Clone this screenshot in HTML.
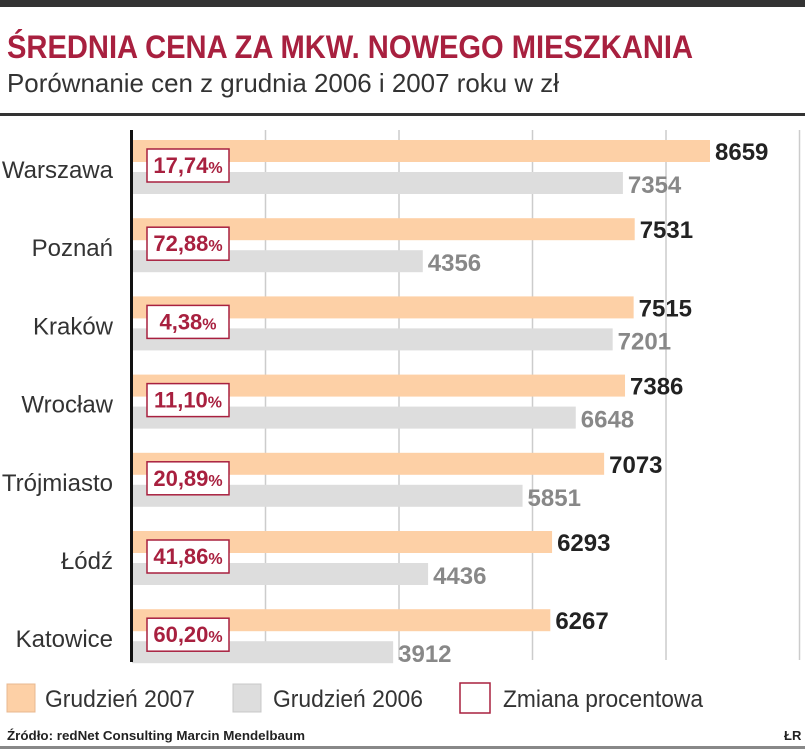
<!DOCTYPE html>
<html><head><meta charset="utf-8"><style>
body{margin:0;background:#fff;}
#w{position:relative;width:805px;height:749px;overflow:hidden;background:#fff;font-family:"Liberation Sans Narrow","Liberation Sans","DejaVu Sans Condensed",sans-serif;}
</style></head><body>
<div id="w">
<svg width="805" height="749">
<rect x="0" y="0" width="805" height="7" fill="#333"/>
<text x="7" y="58" font-size="32" font-weight="bold" fill="#a8203f" textLength="686" lengthAdjust="spacingAndGlyphs">ŚREDNIA CENA ZA MKW. NOWEGO MIESZKANIA</text>
<text x="7" y="92" font-size="26" fill="#333" textLength="552" lengthAdjust="spacingAndGlyphs">Porównanie cen z grudnia 2006 i 2007 roku w zł</text>
<rect x="0" y="113" width="805" height="3" fill="#333"/>
<g id="grid"></g>
<g id="bars"></g>
<rect x="130" y="130" width="3" height="532" fill="#111"/>
<g>
<rect x="7" y="684" width="28" height="28" fill="#fdd0a6" stroke="#e8b890"/>
<text x="45" y="707" font-size="24" fill="#333" textLength="150" lengthAdjust="spacingAndGlyphs">Grudzień 2007</text>
<rect x="233" y="684" width="28" height="28" fill="#ddd" stroke="#c8c8c8"/>
<text x="273" y="707" font-size="24" fill="#333" textLength="150" lengthAdjust="spacingAndGlyphs">Grudzień 2006</text>
<rect x="460" y="683" width="30" height="30" fill="#fff" stroke="#a8203f" stroke-width="1.5"/>
<text x="503" y="707" font-size="24" fill="#333" textLength="200" lengthAdjust="spacingAndGlyphs">Zmiana procentowa</text>
</g>
<text x="7" y="740" font-size="13" font-weight="bold" fill="#222" textLength="298" lengthAdjust="spacingAndGlyphs">Źródło: redNet Consulting Marcin Mendelbaum</text>
<text x="784" y="740" font-size="13" font-weight="bold" fill="#222">ŁR</text>
<rect x="0" y="746" width="805" height="3" fill="#888"/>
</svg>
</div>
<script>
const cities=["Warszawa","Poznań","Kraków","Wrocław","Trójmiasto","Łódź","Katowice"];
const values2007=[8659,7531,7515,7386,7073,6293,6267];
const values2006=[7354,4356,7201,6648,5851,4436,3912];
const changes=["17,74","72,88","4,38","11,10","20,89","41,86","60,20"];
const gridTicks=[2000,4000,6000,8000,10000];
const NS="http://www.w3.org/2000/svg";
const x0=132, pxPer=578/8659;
function xs(v){return x0+v*pxPer;}
function ys(i){return 140+i*78.2;}
function mk(tag,attrs,parent){const e=document.createElementNS(NS,tag);for(const k in attrs)e.setAttribute(k,attrs[k]);parent.appendChild(e);return e;}
const grid=document.getElementById('grid'),bars=document.getElementById('bars');
gridTicks.forEach(t=>{
 const l=mk('line',{x1:xs(t),x2:xs(t),y1:130,y2:660,stroke:'#ccc','stroke-width':1.5},grid);
 
 
});
cities.forEach((c,i)=>{
 const y=ys(i);
 const lb=mk('text',{x:113,y:y+38,'font-size':24,fill:'#333','text-anchor':'end'},bars);lb.textContent=c;
 
 
 const b1=mk('rect',{x:x0,y:y,width:xs(values2007[i])-x0,height:22,fill:'#fdd0a6'},bars);
 
 
 const b2=mk('rect',{x:x0,y:y+32,width:xs(values2006[i])-x0,height:22,fill:'#ddd'},bars);
 
 
 const v1=mk('text',{x:xs(values2007[i])+5,y:y+20,'font-size':24,'font-weight':'bold',fill:'#222'},bars);v1.textContent=values2007[i];
 
 
 const v2=mk('text',{x:xs(values2006[i])+5,y:y+53,'font-size':24,'font-weight':'bold',fill:'#888'},bars);v2.textContent=values2006[i];
 
 
 const bx=mk('rect',{x:147,y:y+9,width:82,height:33,fill:'#fff',stroke:'#a8203f','stroke-width':1.5},bars);
 
 
 const pt=mk('text',{x:188,y:y+33,'font-size':22,'font-weight':'bold',fill:'#a8203f','text-anchor':'middle'},bars);
 
 
 pt.textContent=changes[i];
 const ps=mk('tspan',{'font-size':16},pt);ps.textContent='%';
});
</script>
</body></html>
